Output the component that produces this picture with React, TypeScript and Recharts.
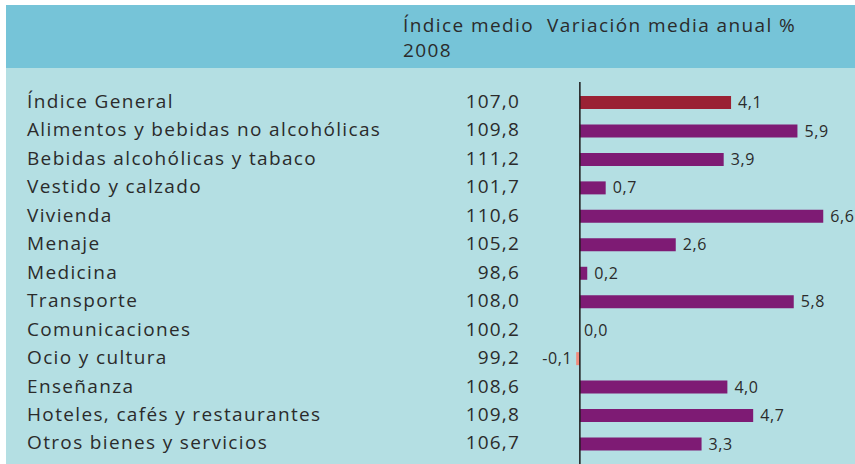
import { BarChart, Bar, XAxis, YAxis, Cell, LabelList, ReferenceLine } from "recharts";

const categories = [
  "Índice General",
  "Alimentos y bebidas no alcohólicas",
  "Bebidas alcohólicas y tabaco",
  "Vestido y calzado",
  "Vivienda",
  "Menaje",
  "Medicina",
  "Transporte",
  "Comunicaciones",
  "Ocio y cultura",
  "Enseñanza",
  "Hoteles, cafés y restaurantes",
  "Otros bienes y servicios",
];
const indice2008 = [107.0, 109.8, 111.2, 101.7, 110.6, 105.2, 98.6, 108.0, 100.2, 99.2, 108.6, 109.8, 106.7];
const variacion = [4.1, 5.9, 3.9, 0.7, 6.6, 2.6, 0.2, 5.8, 0.0, -0.1, 4.0, 4.7, 3.3];

const data = categories.map((name, i) => ({ name, indice: indice2008[i], variacion: variacion[i] }));

const FONT = "'Open Sans', sans-serif";
const TEXT = "#2b2b2b";
const fmt = (v: number) => v.toFixed(1).replace(".", ",");

const CategoryTick = (props: any) => {
  const { y, payload } = props;
  const i = payload.index;
  return (
    <g>
      <text x={27} y={y} dy="0.3em" fill={TEXT} fontSize={19} letterSpacing={1.35} fontFamily={FONT}>
        {categories[i]}
      </text>
      <text x={520} y={y} dy="0.3em" fill={TEXT} fontSize={19} letterSpacing={1.2} fontFamily={FONT} textAnchor="end">
        {fmt(indice2008[i])}
      </text>
    </g>
  );
};

const ValueLabel = (props: any) => {
  const { x, y, width, height, value } = props;
  const left = Math.min(x, x + width);
  const right = Math.max(x, x + width);
  const neg = value < 0;
  return (
    <text
      x={neg ? left - 4 : value === 0 ? right + 4 : right + 7}
      y={y + height / 2}
      dy="0.35em"
      textAnchor={neg ? "end" : "start"}
      fill={TEXT}
      fontSize={16}
      letterSpacing={0.6}
      fontFamily={FONT}
    >
      {fmt(value)}
    </text>
  );
};

export default function App() {
  const head = { position: "absolute" as const, top: 13, fontFamily: FONT, fontSize: 19, letterSpacing: 1.4, lineHeight: "25px", color: TEXT };
  return (
    <div style={{ position: "absolute", left: 0, top: 0, width: 855, height: 464, background: "#fff", overflow: "hidden" }}>
      <div style={{ position: "absolute", left: 6, top: 5, right: 0, bottom: 0, background: "#b4dfe3" }} />
      <div style={{ position: "absolute", left: 6, top: 5, right: 0, height: 63, background: "#76c4d8" }} />
      <div style={{ ...head, left: 403 }}>
        Índice medio
        <br />
        2008
      </div>
      <div style={{ ...head, left: 547 }}>Variación media anual %</div>
      <div style={{ position: "absolute", left: 0, top: 0 }}>
        <BarChart
          width={855}
          height={464}
          data={data}
          layout="vertical"
          margin={{ top: 88, right: 17, bottom: 6, left: 0 }}
          barSize={13}
        >
          <XAxis type="number" domain={[-1, 7]} hide />
          <YAxis
            type="category"
            dataKey="name"
            width={543}
            axisLine={false}
            tickLine={false}
            tick={<CategoryTick />}
          />
          <ReferenceLine
            x={0}
            shape={(p: any) => (
              <line x1={p.x1} x2={p.x2} y1={82} y2={464} stroke="#1a1a1a" strokeWidth={1.5} />
            )}
          />
          <Bar dataKey="variacion" minPointSize={0.01} isAnimationActive={false}>
            {data.map((d, i) => (
              <Cell key={i} fill={i === 0 ? "#9a2134" : d.variacion < 0 ? "#f28b7c" : "#7e1b74"} />
            ))}
            <LabelList dataKey="variacion" content={<ValueLabel />} />
          </Bar>
        </BarChart>
      </div>
    </div>
  );
}
